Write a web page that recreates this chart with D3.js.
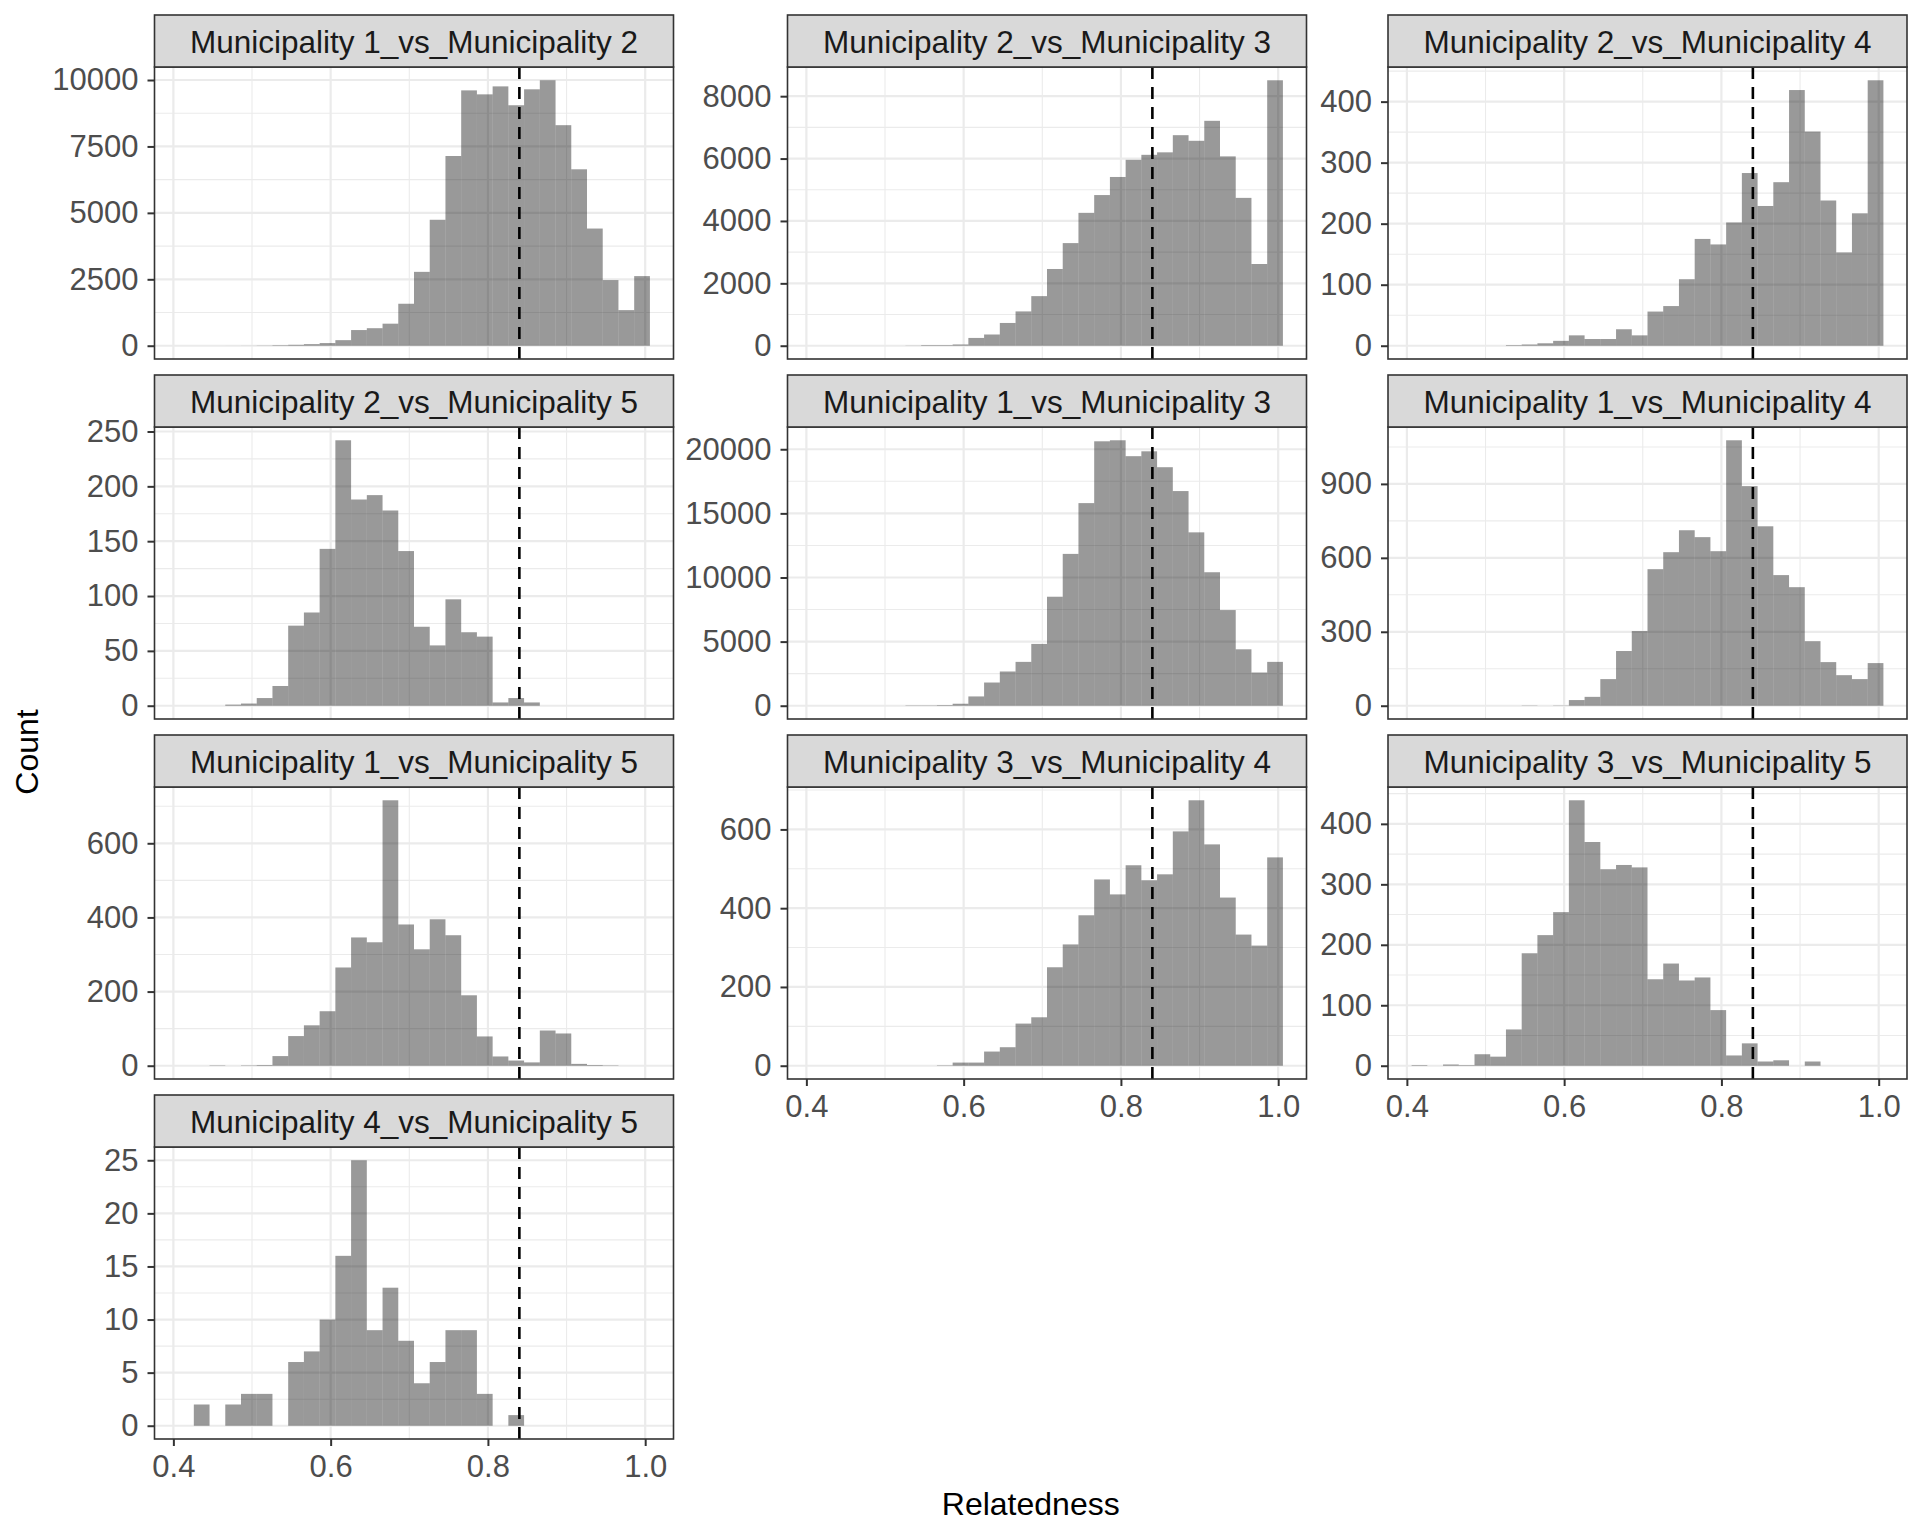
<!DOCTYPE html>
<html>
<head>
<meta charset="utf-8">
<script src="https://cdn.jsdelivr.net/npm/d3@7/dist/d3.min.js"></script>
<style>
  body { margin: 0; background: #FFFFFF; }
</style>
</head>
<body>
<script>
// facet labels, in facet_wrap order (row by row)
const categories = [
    "Municipality 1_vs_Municipality 2",
    "Municipality 2_vs_Municipality 3",
    "Municipality 2_vs_Municipality 4",
    "Municipality 2_vs_Municipality 5",
    "Municipality 1_vs_Municipality 3",
    "Municipality 1_vs_Municipality 4",
    "Municipality 1_vs_Municipality 5",
    "Municipality 3_vs_Municipality 4",
    "Municipality 3_vs_Municipality 5",
    "Municipality 4_vs_Municipality 5"
];

// histogram bin edges (30 bins)
const binEdges = [0.406, 0.426, 0.446, 0.466, 0.486, 0.506, 0.526, 0.546, 0.566, 0.586,
    0.606, 0.626, 0.646, 0.666, 0.686, 0.706, 0.726, 0.746, 0.766, 0.786,
    0.806, 0.826, 0.846, 0.866, 0.886, 0.906, 0.926, 0.946, 0.966, 0.986, 1.006];

// counts per bin
const counts12 = [0, 0, 0, 1, 3, 8, 20, 35, 60, 100, 210, 590, 660, 830, 1580, 2780, 4740, 7140,
    9610, 9460, 9760, 9050, 9650, 9990, 8300, 6640, 4410, 2470, 1340, 2620];
const counts23 = [0, 0, 0, 0, 0, 0, 5, 20, 20, 40, 250, 360, 730, 1100, 1590, 2460, 3290, 4260,
    4830, 5410, 5960, 6120, 6200, 6750, 6570, 7210, 6070, 4740, 2620, 8510];
const counts24 = [0, 0, 0, 0, 0, 0, 1, 2, 4, 8, 17, 11, 11, 27, 17, 56, 65, 109,
    175, 166, 202, 283, 229, 268, 419, 351, 238, 153, 217, 435];
const counts25 = [0, 0, 0, 1, 2, 7, 18, 73, 85, 143, 242, 188, 192, 178, 141, 72, 55, 97,
    67, 63, 3, 7, 3, 0, 0, 0, 0, 0, 0, 0];
const counts13 = [0, 0, 0, 0, 0, 0, 25, 25, 50, 155, 725, 1810, 2670, 3420, 4820, 8500, 11840, 15800,
    20620, 20700, 19460, 19840, 18600, 16740, 13520, 10410, 7460, 4400, 2590, 3420];
const counts14 = [0, 0, 0, 0, 0, 0, 0, 1, 0, 1, 23, 36, 108, 222, 303, 554, 623, 712,
    684, 627, 1077, 891, 728, 530, 481, 262, 177, 124, 108, 173];
const counts15 = [0, 0, 1, 0, 1, 2, 26, 80, 109, 147, 265, 346, 333, 716, 381, 314, 395, 352,
    190, 79, 25, 14, 9, 95, 87, 5, 2, 1, 0, 0];
const counts34 = [0, 0, 0, 0, 0, 0, 0, 0, 1, 8, 8, 36, 47, 107, 123, 250, 308, 382,
    473, 435, 509, 471, 486, 595, 674, 562, 427, 333, 305, 529];
const counts35 = [1, 0, 2, 1, 19, 15, 60, 186, 216, 254, 439, 370, 325, 332, 328, 143, 169, 141,
    146, 92, 17, 37, 7, 9, 0, 7, 0, 0, 0, 0];
const counts45 = [0, 2, 0, 2, 3, 3, 0, 6, 7, 10, 16, 25, 9, 13, 8, 4, 6, 9,
    9, 3, 0, 1, 0, 0, 0, 0, 0, 0, 0, 0];

const seriesCounts = [counts12, counts23, counts24, counts25, counts13,
    counts14, counts15, counts34, counts35, counts45];

// y tick labels per facet (free y scales)
const yTicks = [
    [0, 2500, 5000, 7500, 10000],
    [0, 2000, 4000, 6000, 8000],
    [0, 100, 200, 300, 400],
    [0, 50, 100, 150, 200, 250],
    [0, 5000, 10000, 15000, 20000],
    [0, 300, 600, 900],
    [0, 200, 400, 600],
    [0, 200, 400, 600],
    [0, 100, 200, 300, 400],
    [0, 5, 10, 15, 20, 25]
];

const xTicks = [0.4, 0.6, 0.8, 1.0];
const xMinorTicks = [0.5, 0.7, 0.9];
const threshold = 0.84;

// layout
const WIDTH = 1920, HEIGHT = 1536;
const colLeft = [154.5, 787.5, 1388];
const panelW = 519;
const stripH = 52, panelH = 292, rowPitch = 360, firstTop = 15;
const ncol = 3;
const FONT = "'Liberation Sans', Arial, Helvetica, sans-serif";
const COL = {
    grid: "#EBEBEB",
    border: "#333333",
    strip: "#D9D9D9",
    stripText: "#1A1A1A",
    tickText: "#4D4D4D",
    bar: "#000000"
};

const svg = d3.select("body").append("svg")
    .attr("xmlns", "http://www.w3.org/2000/svg")
    .attr("width", WIDTH)
    .attr("height", HEIGHT)
    .style("font-family", FONT)
    .style("background", "#FFFFFF");

// x extent from bins, with ggplot's 5% expansion
const xLo = binEdges[0], xHi = binEdges[binEdges.length - 1];
const xPad = (xHi - xLo) * 0.05;
const x = d3.scaleLinear().domain([xLo - xPad, xHi + xPad]).range([0, panelW]);

// which facet is the last in its column (gets the x axis)
const nPanels = categories.length;
const lastInCol = new Set();
for (let c = 0; c < ncol; c++) {
    let last = -1;
    for (let i = c; i < nPanels; i += ncol) last = i;
    lastInCol.add(last);
}

categories.forEach((label, i) => {
    const r = Math.floor(i / ncol), c = i % ncol;
    const left = colLeft[c];
    const stripTop = firstTop + r * rowPitch;
    const top = stripTop + stripH;
    const counts = seriesCounts[i];
    const ymax = d3.max(counts);
    const y = d3.scaleLinear().domain([-0.05 * ymax, 1.05 * ymax]).range([panelH, 0]);
    const ticks = yTicks[i];
    const step = ticks[1] - ticks[0];
    const yMinor = [ticks[0] - step / 2].concat(ticks.map(t => t + step / 2))
        .filter(v => v > y.domain()[0] && v < y.domain()[1]);

    const g = svg.append("g").attr("transform", `translate(${left},${top})`);

    g.append("rect").attr("width", panelW).attr("height", panelH).attr("fill", "#FFFFFF");

    // minor grid
    g.selectAll(".xminor").data(xMinorTicks).join("line")
        .attr("x1", d => x(d)).attr("x2", d => x(d))
        .attr("y1", 0).attr("y2", panelH)
        .attr("stroke", COL.grid).attr("stroke-width", 1.1);
    g.selectAll(".yminor").data(yMinor).join("line")
        .attr("x1", 0).attr("x2", panelW)
        .attr("y1", d => y(d)).attr("y2", d => y(d))
        .attr("stroke", COL.grid).attr("stroke-width", 1.1);
    // major grid
    g.selectAll(".xmajor").data(xTicks).join("line")
        .attr("x1", d => x(d)).attr("x2", d => x(d))
        .attr("y1", 0).attr("y2", panelH)
        .attr("stroke", COL.grid).attr("stroke-width", 2.2);
    g.selectAll(".ymajor").data(ticks).join("line")
        .attr("x1", 0).attr("x2", panelW)
        .attr("y1", d => y(d)).attr("y2", d => y(d))
        .attr("stroke", COL.grid).attr("stroke-width", 2.2);

    // bars
    const bins = counts.map((n, k) => ({ n, x0: binEdges[k], x1: binEdges[k + 1] }))
        .filter(b => b.n > 0);
    g.selectAll(".bar").data(bins).join("rect")
        .attr("x", d => x(d.x0))
        .attr("width", d => x(d.x1) - x(d.x0))
        .attr("y", d => y(d.n))
        .attr("height", d => y(0) - y(d.n))
        .attr("fill", COL.bar)
        .attr("fill-opacity", 0.4);

    // threshold line
    g.append("line")
        .attr("x1", x(threshold)).attr("x2", x(threshold))
        .attr("y1", panelH).attr("y2", 0)
        .attr("stroke", "#000000")
        .attr("stroke-width", 2.6)
        .attr("stroke-dasharray", "12,8");

    // panel border
    g.append("rect").attr("width", panelW).attr("height", panelH)
        .attr("fill", "none").attr("stroke", COL.border).attr("stroke-width", 1.6);

    // y axis
    const yAxis = g.append("g")
        .call(d3.axisLeft(y).tickValues(ticks).tickSize(7).tickPadding(9).tickFormat(d3.format("d")));
    yAxis.select(".domain").remove();
    yAxis.selectAll(".tick line").attr("stroke", COL.border).attr("stroke-width", 2);
    yAxis.selectAll(".tick text")
        .attr("fill", COL.tickText)
        .style("font-size", "31px")
        .style("font-family", FONT);

    // x axis on bottom facet of each column
    if (lastInCol.has(i)) {
        const xAxis = g.append("g").attr("transform", `translate(0,${panelH})`)
            .call(d3.axisBottom(x).tickValues(xTicks).tickSize(7).tickPadding(9).tickFormat(d3.format(".1f")));
        xAxis.select(".domain").remove();
        xAxis.selectAll(".tick line").attr("stroke", COL.border).attr("stroke-width", 2);
        xAxis.selectAll(".tick text")
            .attr("fill", COL.tickText)
            .style("font-size", "31px")
            .style("font-family", FONT);
    }

    // strip
    const s = svg.append("g").attr("transform", `translate(${left},${stripTop})`);
    s.append("rect").attr("width", panelW).attr("height", stripH)
        .attr("fill", COL.strip).attr("stroke", COL.border).attr("stroke-width", 1.6);
    s.append("text")
        .attr("x", panelW / 2).attr("y", 37.5)
        .attr("text-anchor", "middle")
        .attr("fill", COL.stripText)
        .style("font-size", "31.5px")
        .text(label);
});

// axis titles
svg.append("text")
    .attr("x", (colLeft[0] + colLeft[2] + panelW) / 2)
    .attr("y", 1515)
    .attr("text-anchor", "middle")
    .attr("fill", "#000000")
    .style("font-size", "32px")
    .text("Relatedness");

svg.append("text")
    .attr("transform", "translate(38,752) rotate(-90)")
    .attr("text-anchor", "middle")
    .attr("fill", "#000000")
    .style("font-size", "32px")
    .text("Count");
</script>
</body>
</html>
